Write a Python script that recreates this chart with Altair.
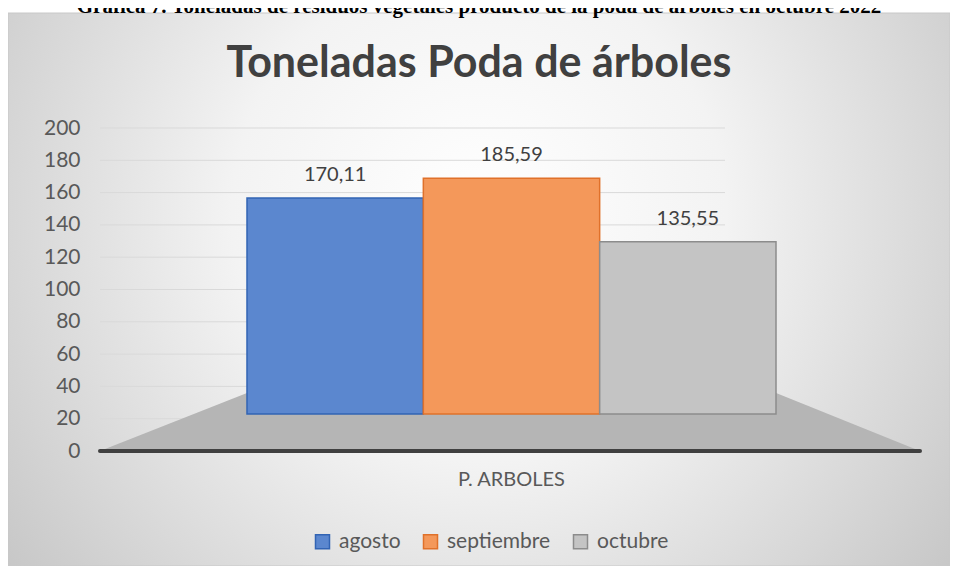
import altair as alt
import pandas as pd

# ---- data ----
caption = "Gráfica 7. Toneladas de residuos vegetales producto de la poda de árboles en octubre 2022"
main_title = "Toneladas Poda de árboles"
category = "P. ARBOLES"
months = ["agosto", "septiembre", "octubre"]
values = [170.11, 185.59, 135.55]
y_ticks = [0, 20, 40, 60, 80, 100, 120, 140, 160, 180, 200]

# ---- styles ----
fills = ["#5b87cf", "#f4985a", "#c4c4c4"]
strokes = ["#3264b4", "#e0712a", "#8c8c8c"]
W, H = 942, 553

df = pd.DataFrame({"cat": [category] * len(months), "mes": months, "valor": values})
tick_df = pd.DataFrame({"t": y_ticks})
one = pd.DataFrame({"k": [0]})

axis_scale = alt.Scale(domain=[0, 200], range=[438, 115])
bar_scale = alt.Scale(domain=[0, 200], range=[401, 147])

gradient = {
    "gradient": "radial",
    "x1": 0.5, "y1": 0.42, "r1": 0,
    "x2": 0.5, "y2": 0.42, "r2": 0.75,
    "stops": [
        {"offset": 0, "color": "#ffffff"},
        {"offset": 0.35, "color": "#f3f3f3"},
        {"offset": 1, "color": "#b8b8b8"},
    ],
}

bg = alt.Chart(one).mark_rect(fill=gradient, stroke="#c8c8c8", strokeWidth=1).encode(
    x=alt.value(0), x2=alt.value(W), y=alt.value(0), y2=alt.value(H)
)

grid = alt.Chart(tick_df).mark_rule(color="#d9d9d9", strokeWidth=1).encode(
    y=alt.Y("t:Q", scale=axis_scale,
            axis=alt.Axis(values=y_ticks, title=None, domain=False, ticks=False, tickSize=0,
                          grid=False, labelFontSize=21, labelColor="#595959", labelFont="Lato",
                          offset=-82, labelPadding=10, zindex=2)),
    x=alt.value(92), x2=alt.value(717),
)

floor = alt.Chart(one).mark_point(
    shape="M -1 0.0707 L 1 0.0707 L 0.649 -0.0707 L -0.6415 -0.0707 Z",
    filled=True, fill="#b5b5b5", opacity=1, strokeWidth=0, size=672400,
).encode(x=alt.value(502), y=alt.value(409))

baseline = alt.Chart(tick_df).transform_filter("datum.t == 0").mark_rule(
    color="#404040", strokeWidth=4, strokeCap="round"
).encode(
    y=alt.Y("t:Q", scale=axis_scale, axis=None),
    x=alt.value(92), x2=alt.value(912),
)

x_enc = alt.X("cat:N", scale=alt.Scale(range=[239, 768], paddingInner=0, paddingOuter=0),
              axis=alt.Axis(title=None, labelAngle=0, domain=False, ticks=False, tickSize=0,
                            labelPadding=0, offset=-97, labelFontSize=20, labelColor="#595959",
                            labelFont="Lato", zindex=2))
xo_enc = alt.XOffset("mes:N", sort=months, scale=alt.Scale(domain=months, paddingInner=0, paddingOuter=0))
y_enc = alt.Y("valor:Q", scale=bar_scale, axis=None)

legend = alt.Legend(
    title=None, orient="none", legendX=304, legendY=518, direction="horizontal",
    labelFontSize=21, labelFont="Lato", labelColor="#595959",
    symbolType="square", symbolSize=196, symbolStrokeWidth=1.5,
    columnPadding=19, labelOffset=6, padding=0,
)

bars = alt.Chart(df).mark_bar(strokeWidth=1.5).encode(
    x=x_enc, xOffset=xo_enc, y=y_enc,
    color=alt.Color("mes:N", sort=months, scale=alt.Scale(domain=months, range=fills), legend=legend),
    stroke=alt.Stroke("mes:N", sort=months, scale=alt.Scale(domain=months, range=strokes), legend=legend),
)

labels = alt.Chart(df).transform_calculate(
    lbl="replace(format(datum.valor, '.2f'), '.', ',')"
).mark_text(fontSize=20, font="Lato", color="#404040", dy=-23, baseline="middle").encode(
    x=x_enc, xOffset=xo_enc, y=y_enc, text="lbl:N"
)

bar_layer = alt.layer(bars, labels)

chart = alt.layer(bg, grid, floor, baseline, bar_layer).resolve_scale(
    y="independent", x="independent"
).properties(
    width=W, height=H,
    background="white",
    padding={"left": 0, "right": 0, "top": 5, "bottom": 0},
    autosize=alt.AutoSizeParams(type="none"),
    title=alt.TitleParams(
        text=caption, subtitle=main_title,
        font="Liberation Serif", fontSize=21, fontWeight="bold", color="#000000",
        subtitleFont="Lato", subtitleFontSize=43, subtitleFontWeight="bold",
        subtitleColor="#404040", subtitlePadding=26,
        anchor="middle", frame="group", offset=-73,
    ),
).configure_view(strokeWidth=0)

chart.save("out.html", embed_options={"renderer": "svg", "actions": False})
